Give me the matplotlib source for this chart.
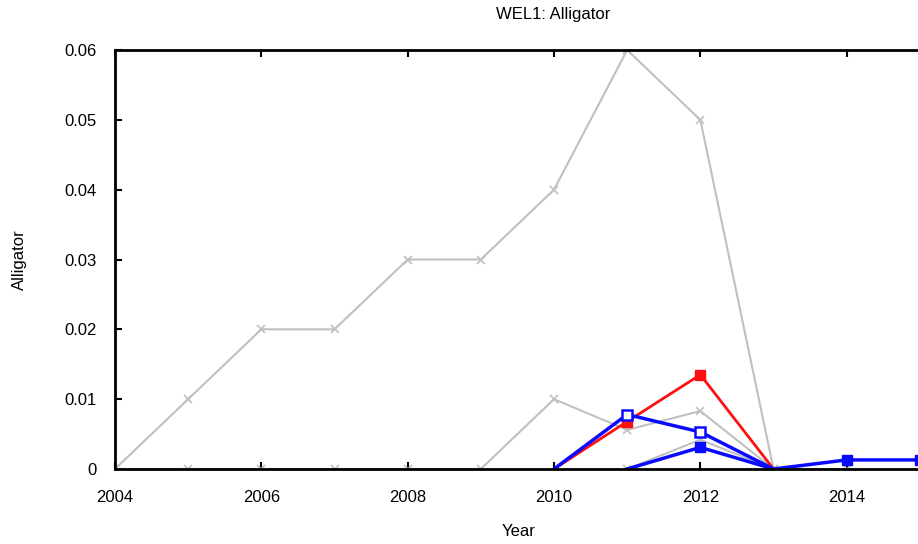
import numpy as np
import matplotlib.pyplot as plt

plt.rcParams['font.family'] = ['Liberation Sans', 'DejaVu Sans']

# grey series (x markers)
years_a = [2004, 2005, 2006, 2007, 2008, 2009, 2010, 2011, 2012, 2013]
vals_a = [0, 0.01, 0.02, 0.02, 0.03, 0.03, 0.04, 0.06, 0.05, 0]

years_b = [2004, 2005, 2006, 2007, 2008, 2009, 2010, 2011, 2012, 2013]
vals_b = [0, 0, 0, 0, 0, 0, 0.01, 0.0056, 0.0083, 0]

years_c = [2011, 2012, 2013, 2014]
vals_c = [0, 0.0042, 0, 0]

# red filled squares
years_red = [2010, 2011, 2012, 2013]
vals_red = [0, 0.0068, 0.0135, 0]

# blue open squares
years_bo = [2010, 2011, 2012, 2013]
vals_bo = [0, 0.0078, 0.0053, 0]

# blue filled squares
years_bf = [2011, 2012, 2013, 2014, 2015]
vals_bf = [0, 0.0031, 0, 0.0013, 0.0013]

grey = '#c0c0c0'


def nonzero(vals):
    # markers sitting on the zero line are hidden by the axis in the original
    return [i for i, v in enumerate(vals) if v != 0]


fig = plt.figure(figsize=(9.18, 5.44), dpi=100)
ax = fig.add_axes([115 / 918, 75 / 544, 878 / 918, 419 / 544])

ax.plot(years_a, vals_a, color=grey, lw=1.5, marker='x', ms=6, mew=1.2)
ax.plot(years_b, vals_b, color=grey, lw=1.5, marker='x', ms=6, mew=1.2)
ax.plot(years_c, vals_c, color=grey, lw=1.5, marker='x', ms=6, mew=1.2)
ax.plot(years_red, vals_red, color='#ff1010', lw=2, marker='s', ms=7,
        markevery=nonzero(vals_red))
ax.plot(years_bo, vals_bo, color='#0a0aff', lw=2.5, marker='s', ms=7,
        mfc='white', mew=1.8, markevery=nonzero(vals_bo))
ax.plot(years_bf, vals_bf, color='#0a0aff', lw=2.5, marker='s', ms=7,
        markevery=nonzero(vals_bf))

ax.set_xlim(2004, 2016)
ax.set_ylim(0, 0.06)
ax.set_xticks(np.arange(2004, 2016, 2))
ax.set_yticks([0, 0.01, 0.02, 0.03, 0.04, 0.05, 0.06])
ax.set_yticklabels(['0', '0.01', '0.02', '0.03', '0.04', '0.05', '0.06'])
ax.tick_params(direction='in', length=5, width=1.5, labelsize=12,
               top=True, right=True)
ax.tick_params(axis='x', pad=15)
ax.tick_params(axis='y', pad=13)
for s in ax.spines.values():
    s.set_linewidth(2)
    s.set_color('black')

ax.set_xlabel('Year', fontsize=12)
ax.xaxis.set_label_coords((519 - 115) / 878, -0.131)
ax.set_ylabel('Alligator', fontsize=12, labelpad=27)
ax.set_title('WEL1: Alligator', fontsize=12, pad=22, x=(553 - 115) / 878)

fig.savefig('out.png', dpi=100)
